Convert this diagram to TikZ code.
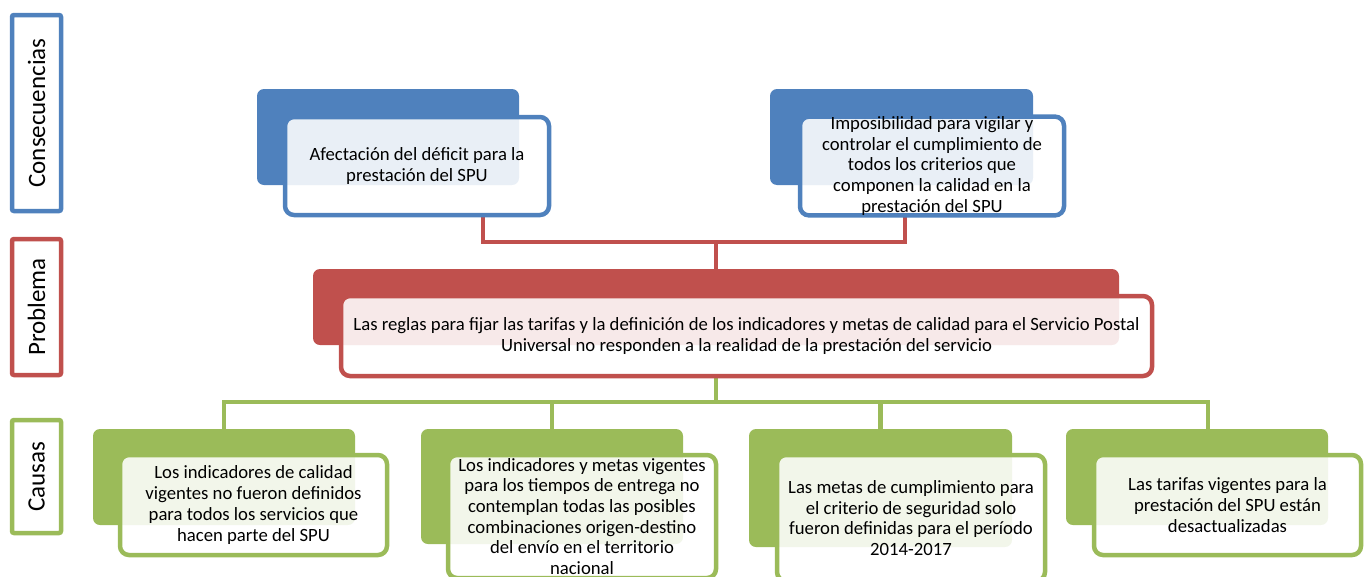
\documentclass[tikz,border=0pt]{standalone}
\usepackage{fontspec}
\setmainfont{Carlito}
\definecolor{oblue}{HTML}{4F81BD}
\definecolor{ored}{HTML}{C0504D}
\definecolor{ogreen}{HTML}{9BBB59}
\begin{document}
\begin{tikzpicture}[x=1pt,y=-1pt,
  lbl/.style={draw=#1,line width=4.5pt,fill=white,rounded corners=2pt,minimum width=49pt,inner sep=0pt},
  back/.style={fill=#1,rounded corners=7pt,inner sep=0pt},
  front/.style={draw=#1,line width=4.5pt,fill=white,fill opacity=0.88,text opacity=1,rounded corners=9pt,inner sep=0pt,align=center,font=\fontsize{18.7}{20.7}\selectfont},
  conn/.style={draw=#1,line width=4.5pt}]
\useasboundingbox (0,0) rectangle (1368,576);
\clip (0,0) rectangle (1368,576);
% side labels
\node[lbl=oblue,minimum height=196pt] (l1) at (36.5,113) {\rotatebox{90}{\fontsize{25}{28}\selectfont Consecuencias}};
\node[lbl=ored,minimum height=136pt] (l2) at (36.5,307) {\rotatebox{90}{\fontsize{25}{28}\selectfont Problema}};
\node[lbl=ogreen,minimum height=113pt] (l3) at (36.5,476.5) {\rotatebox{90}{\fontsize{25}{28}\selectfont Causas}};
% back boxes
\node[back=oblue,minimum width=262pt,minimum height=96pt] (c1d) at (388,137) {};
\node[back=oblue,minimum width=263pt,minimum height=96pt] (c2d) at (901.5,137) {};
\node[back=ored,minimum width=806pt,minimum height=76pt] (pd) at (716,307) {};
\node[back=ogreen,minimum width=262pt,minimum height=96pt] (k1d) at (224,477) {};
\node[back=ogreen,minimum width=262pt,minimum height=115pt] (k2d) at (552,486.5) {};
\node[back=ogreen,minimum width=263pt,minimum height=118pt] (k3d) at (880.5,488) {};
\node[back=ogreen,minimum width=262pt,minimum height=96pt] (k4d) at (1197,477) {};
% connector coordinates
\coordinate (r1) at (483,242);
\coordinate (r2) at (905,242);
\coordinate (g) at (716,402);
\coordinate (k4c) at (1208,429);
% connectors (behind front boxes)
\draw[conn=ored] (r1 |- 0,215) -- (r1) -- (r2) -- (r2 |- 0,215);
\draw[conn=ored] (pd.north) -- (pd.north |- r1);
\draw[conn=ogreen] (g |- 0,376) -- (g);
\draw[conn=ogreen] (k1d.north) -- (k1d.north |- g) -- (k4c |- g) -- (k4c);
\draw[conn=ogreen] (k2d.north) -- (k2d.north |- g);
\draw[conn=ogreen] (k3d.north) -- (k3d.north |- g);
% front boxes
\node[front=oblue,minimum width=264pt,minimum height=98pt] (c1) at (417,166) {Afectación del déficit para la\\prestación del SPU};
\node[front=oblue,minimum width=264pt,minimum height=98pt] (c2) at (932,166) {Imposibilidad para vigilar y\\controlar el cumplimiento de\\todos los criterios que\\componen la calidad en la\\prestación del SPU};
\node[front=ored,minimum width=811pt,minimum height=80pt] (p) at (746.5,336) {Las reglas para fijar las tarifas y la definición de los indicadores y metas de calidad para el Servicio Postal\\Universal no responden a la realidad de la prestación del servicio};
\node[front=ogreen,minimum width=267pt,minimum height=100pt] (k1) at (253.5,505) {Los indicadores de calidad\\vigentes no fueron definidos\\para todos los servicios que\\hacen parte del SPU};
\node[front=ogreen,minimum width=268pt,minimum height=123pt] (k2) at (582,516.5) {Los indicadores y metas vigentes\\para los tiempos de entrega no\\contemplan todas las posibles\\combinaciones origen-destino\\del envío en el territorio\\nacional};
\node[front=ogreen,minimum width=268pt,minimum height=126pt] (k3) at (911,518) {Las metas de cumplimiento para\\el criterio de seguridad solo\\fueron definidas para el período\\2014-2017};
\node[front=ogreen,minimum width=267pt,minimum height=100pt] (k4) at (1227.5,505) {Las tarifas vigentes para la\\prestación del SPU están\\desactualizadas};
\end{tikzpicture}
\end{document}
